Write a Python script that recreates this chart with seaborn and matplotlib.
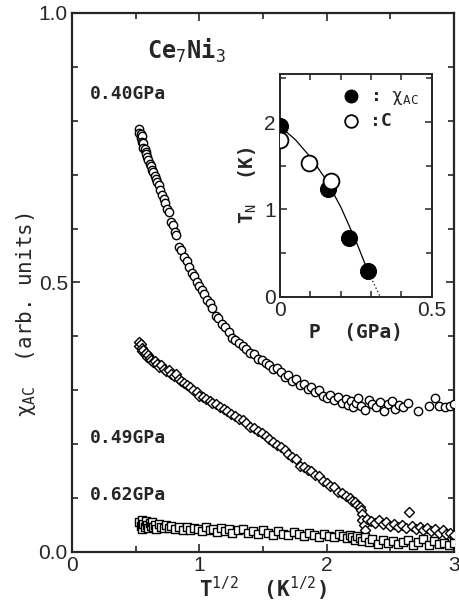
import numpy as np
import pandas as pd
import matplotlib
matplotlib.use("Agg")
import matplotlib.pyplot as plt
import seaborn as sns
from matplotlib.ticker import MultipleLocator

sns.set_style("ticks")
plt.rcParams['font.family'] = ['Liberation Sans', 'DejaVu Sans']
plt.rcParams['mathtext.fontset'] = 'custom'
plt.rcParams['mathtext.rm'] = 'DejaVu Sans Mono'
plt.rcParams['mathtext.it'] = 'DejaVu Sans Mono'

# 0.40 GPa (circles)
x40 = [0.53,0.53,0.54,0.54,0.55,0.55,0.56,0.56,0.57,0.58,
       0.58,0.59,0.60,0.61,0.62,0.63,0.64,0.65,0.66,0.67,
       0.68,0.69,0.71,0.72,0.73,0.75,0.76,0.78,0.79,0.81,
       0.82,0.84,0.86,0.88,0.90,0.92,0.94,0.96,0.98,1.00,
       1.02,1.04,1.06,1.08,1.10,1.13,1.15,1.18,1.20,1.23,
       1.26,1.28,1.31,1.34,1.37,1.40,1.43,1.46,1.49,1.52,
       1.55,1.58,1.61,1.64,1.67,1.70,1.73,1.76,1.79,1.82,
       1.85,1.88,1.91,1.94,1.97,2.00,2.03,2.06,2.09,2.12,
       2.15,2.17,2.19,2.21,2.23,2.25,2.27,2.30,2.33,2.36,
       2.39,2.42,2.45,2.48,2.51,2.54,2.57,2.60,2.64,2.72,
       2.80,2.85,2.88,2.93,2.97,3.00]
y40 = [0.785,0.778,0.775,0.768,0.772,0.760,0.758,0.750,0.748,0.742,
       0.738,0.733,0.728,0.720,0.716,0.708,0.705,0.697,0.692,0.686,
       0.680,0.672,0.662,0.655,0.648,0.636,0.630,0.612,0.607,0.594,
       0.588,0.565,0.560,0.547,0.540,0.528,0.518,0.512,0.500,0.493,
       0.486,0.478,0.468,0.462,0.452,0.437,0.434,0.422,0.417,0.408,
       0.396,0.394,0.388,0.382,0.377,0.370,0.368,0.358,0.356,0.350,
       0.346,0.340,0.342,0.333,0.325,0.328,0.318,0.320,0.310,0.312,
       0.302,0.306,0.296,0.300,0.290,0.286,0.292,0.281,0.288,0.276,
       0.283,0.272,0.280,0.268,0.276,0.285,0.270,0.264,0.282,0.275,
       0.268,0.278,0.262,0.274,0.280,0.266,0.272,0.268,0.276,0.262,
       0.270,0.285,0.270,0.268,0.270,0.274]

# 0.49 GPa (diamonds)
x49 = [0.53,0.53,0.54,0.55,0.55,0.56,0.57,0.58,0.59,0.60,
       0.61,0.62,0.64,0.65,0.67,0.68,0.70,0.72,0.74,0.76,
       0.78,0.80,0.82,0.84,0.86,0.88,0.90,0.93,0.95,0.98,
       1.00,1.03,1.05,1.08,1.10,1.13,1.16,1.19,1.22,1.25,
       1.28,1.31,1.34,1.37,1.40,1.43,1.46,1.49,1.52,1.55,
       1.58,1.61,1.64,1.67,1.70,1.73,1.76,1.79,1.82,1.85,
       1.88,1.91,1.94,1.97,2.00,2.03,2.06,2.09,2.12,2.15,
       2.18,2.20,2.22,2.24,2.26,2.27,2.28,2.28,2.29,2.30,
       2.32,2.35,2.38,2.41,2.44,2.47,2.50,2.53,2.56,2.59,
       2.62,2.65,2.67,2.70,2.73,2.76,2.79,2.82,2.85,2.88,
       2.91,2.94,2.97,3.00]
y49 = [0.390,0.382,0.386,0.378,0.372,0.375,0.368,0.370,0.362,0.365,
       0.360,0.356,0.352,0.355,0.348,0.344,0.346,0.340,0.335,0.338,
       0.330,0.326,0.330,0.320,0.318,0.314,0.310,0.306,0.300,0.297,
       0.290,0.288,0.284,0.280,0.276,0.275,0.268,0.266,0.262,0.255,
       0.252,0.246,0.244,0.240,0.232,0.230,0.224,0.220,0.216,0.210,
       0.204,0.198,0.194,0.190,0.182,0.176,0.172,0.160,0.158,0.152,
       0.150,0.142,0.140,0.132,0.128,0.122,0.120,0.112,0.110,0.104,
       0.100,0.094,0.092,0.088,0.084,0.078,0.070,0.060,0.050,0.040,
       0.062,0.058,0.054,0.060,0.052,0.056,0.048,0.052,0.046,0.050,
       0.044,0.075,0.048,0.042,0.046,0.040,0.044,0.038,0.042,0.036,
       0.040,0.034,0.036,0.032]

# 0.62 GPa (squares)
x62 = [0.53,0.54,0.55,0.55,0.56,0.57,0.58,0.59,0.60,0.61,
       0.62,0.63,0.64,0.65,0.66,0.68,0.70,0.72,0.74,0.76,
       0.78,0.81,0.84,0.87,0.90,0.93,0.96,0.99,1.02,1.05,
       1.08,1.11,1.14,1.17,1.20,1.23,1.26,1.30,1.34,1.38,
       1.42,1.46,1.50,1.54,1.58,1.62,1.66,1.70,1.74,1.78,
       1.82,1.86,1.90,1.94,1.98,2.02,2.06,2.10,2.13,2.16,
       2.18,2.20,2.22,2.24,2.26,2.28,2.30,2.33,2.36,2.40,
       2.44,2.48,2.52,2.56,2.60,2.64,2.68,2.72,2.76,2.80,
       2.84,2.88,2.92,2.96,3.00]
y62 = [0.055,0.048,0.060,0.042,0.052,0.046,0.058,0.050,0.044,0.054,
       0.048,0.056,0.046,0.050,0.043,0.052,0.047,0.044,0.050,0.045,
       0.049,0.043,0.047,0.041,0.046,0.040,0.044,0.042,0.038,0.046,
       0.040,0.043,0.037,0.044,0.039,0.042,0.036,0.040,0.043,0.035,
       0.039,0.034,0.040,0.036,0.032,0.038,0.034,0.031,0.037,0.033,
       0.030,0.036,0.032,0.028,0.034,0.030,0.027,0.033,0.029,0.025,
       0.031,0.027,0.022,0.030,0.026,0.020,0.028,0.018,0.024,0.015,
       0.022,0.016,0.020,0.014,0.019,0.022,0.013,0.018,0.024,0.012,
       0.020,0.015,0.017,0.012,0.016]

# inset: T_N vs P
p_chi = [0.0, 0.157, 0.227, 0.289]
tn_chi = [1.95, 1.23, 0.67, 0.30]
p_c = [0.0, 0.096, 0.167]
tn_c = [1.80, 1.53, 1.33]
p_line = [0.0, 0.05, 0.10, 0.15, 0.20, 0.25, 0.289]
tn_line = [1.95, 1.80, 1.60, 1.35, 1.03, 0.64, 0.30]
p_dot = [0.289, 0.33]
tn_dot = [0.30, 0.0]

main_xticks = [0, 1, 2, 3]
main_yticks = [0.0, 0.5, 1.0]
main_ylabels = ["0.0", "0.5", "1.0"]
inset_xticks = [0, 0.5]
inset_xlabels = ["0", "0.5"]
inset_yticks = [0, 1, 2]

fig = plt.figure(figsize=(4.6, 6.16), dpi=100)
ax = fig.add_axes([0.1565, 0.104, 0.8304, 0.875])

kw = dict(facecolor="white", edgecolor="black", linewidth=1.0, legend=False, ax=ax, zorder=3)
sns.scatterplot(x=x40, y=y40, marker="o", s=36, **kw)
sns.scatterplot(x=x49, y=y49, marker="D", s=26, **kw)
sns.scatterplot(x=x62, y=y62, marker="s", s=30, **kw)

ax.set_xlim(0, 3)
ax.set_ylim(0, 1.0)
ax.set_xticks(main_xticks, [str(t) for t in main_xticks], fontsize=15)
ax.set_yticks(main_yticks, main_ylabels, fontsize=15)
ax.xaxis.set_minor_locator(MultipleLocator(0.5))
ax.yaxis.set_minor_locator(MultipleLocator(0.1))
ax.tick_params(which="both", direction="in", top=True, right=True, width=1.2)
ax.tick_params(which="major", length=6, pad=3)
ax.tick_params(which="minor", length=4)
for s in ax.spines.values():
    s.set_linewidth(1.6)

lab = dict(family="DejaVu Sans Mono", fontweight="bold")
ax.set_xlabel(r"T$^{1/2}$  (K$^{1/2}$)", fontsize=15, labelpad=0, **lab)
ax.set_ylabel(r"$\chi_{AC}$  (arb. units)", fontsize=15, family="DejaVu Sans Mono")
ax.yaxis.set_label_coords(-0.09, 0.44)

ax.text(0.59, 0.93, r"Ce$_7$Ni$_3$", fontsize=17, ha="left", va="center", **lab)
ax.text(0.14, 0.85, "0.40GPa", fontsize=13, ha="left", va="center", **lab)
ax.text(0.14, 0.212, "0.49GPa", fontsize=13, ha="left", va="center", **lab)
ax.text(0.14, 0.106, "0.62GPa", fontsize=13, ha="left", va="center", **lab)

# inset
ins = fig.add_axes([0.6087, 0.518, 0.330, 0.362])
sns.lineplot(x=p_line, y=tn_line, color="black", linewidth=0.9, ax=ins, sort=False)
ins.plot(p_dot, tn_dot, color="black", linewidth=0.9, linestyle=(0, (1, 2)))
sns.scatterplot(x=p_chi, y=tn_chi, marker="o", s=130, color="black", edgecolor="black",
                ax=ins, zorder=4, label=r": $\chi_{AC}$")
sns.scatterplot(x=p_c, y=tn_c, marker="o", s=130, facecolor="white", edgecolor="black",
                linewidth=1.3, ax=ins, zorder=5, label=":C")
ins.set_xlim(0, 0.5)
ins.set_ylim(0, 2.55)
ins.set_xticks(inset_xticks, inset_xlabels, fontsize=15)
ins.set_yticks(inset_yticks, [str(t) for t in inset_yticks], fontsize=15)
ins.xaxis.set_minor_locator(MultipleLocator(0.1))
ins.yaxis.set_minor_locator(MultipleLocator(0.5))
ins.tick_params(which="both", direction="in", top=True, right=True, width=1.1)
ins.tick_params(which="major", length=5, pad=3)
ins.tick_params(which="minor", length=4)
for s in ins.spines.values():
    s.set_linewidth(1.4)
ins.set_xlabel("P  (GPa)", fontsize=14, labelpad=2, **lab)
ins.set_ylabel(r"T$_N$  (K)", fontsize=14, labelpad=4, **lab)
leg = ins.legend(loc="upper right", frameon=False, handletextpad=0.1, borderaxespad=0.3,
                 labelspacing=0.3, markerscale=0.8,
                 prop={"family": "DejaVu Sans Mono", "weight": "bold", "size": 13})

fig.savefig("out.png", dpi=100)
